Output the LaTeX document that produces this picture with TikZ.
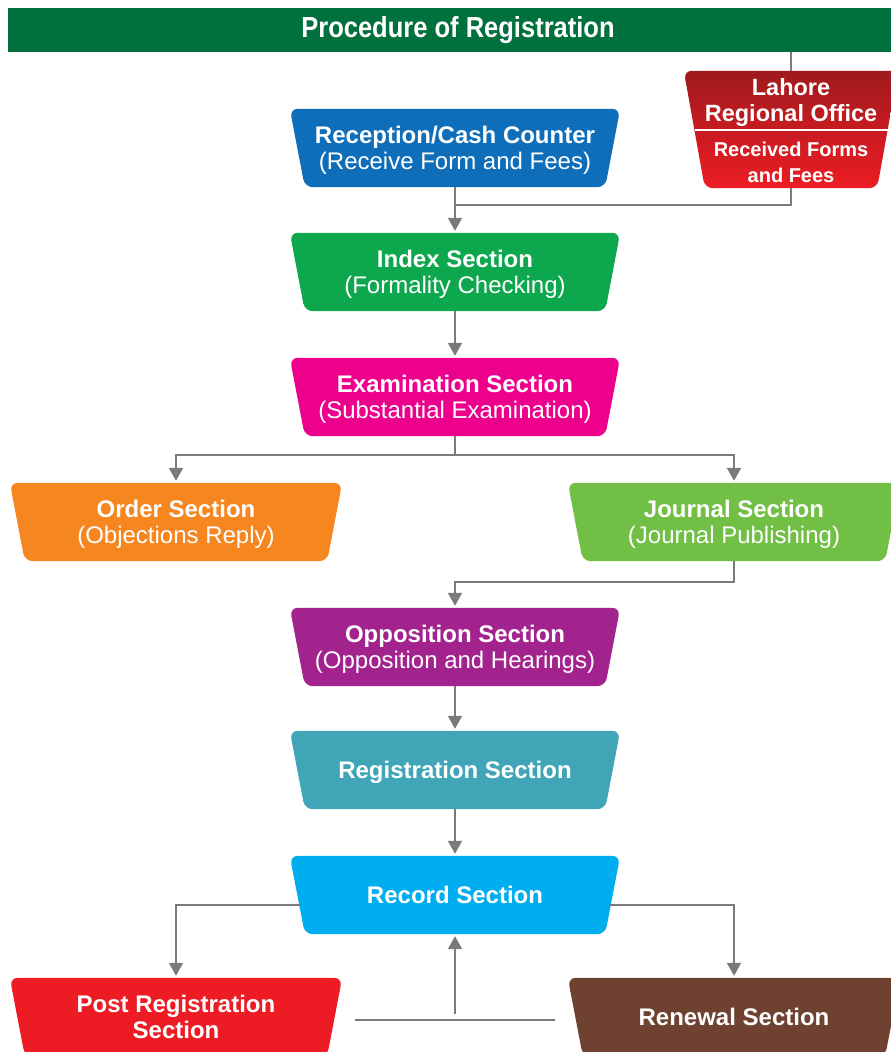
\documentclass[tikz,border=0pt]{standalone}
\usepackage{fontspec}
\setmainfont{Liberation Sans}
\newfontfamily\titlefont[FakeStretch=0.88]{Liberation Sans}
\usetikzlibrary{arrows.meta,backgrounds,calc}
\definecolor{titlegreen}{HTML}{00703C}
\definecolor{cblue}{HTML}{0F6EB9}
\definecolor{cindex}{HTML}{0DA84E}
\definecolor{cmag}{HTML}{EC008C}
\definecolor{corange}{HTML}{F6861F}
\definecolor{clgreen}{HTML}{71BF44}
\definecolor{cpurple}{HTML}{A2238E}
\definecolor{cteal}{HTML}{3FA5B7}
\definecolor{ccyan}{HTML}{00AEEF}
\definecolor{cred}{HTML}{ED1C24}
\definecolor{cbrown}{HTML}{6E4131}
\definecolor{cdred}{HTML}{A01A1D}
\definecolor{cgray}{HTML}{7A7A7A}
\newcommand\mytrap[3]{\path[#2, rounded corners=8pt] (#1.north west) -- (#1.north east) -- ([xshift=-#3]#1.south east) -- ([xshift=#3]#1.south west) -- cycle;}
\tikzset{
  box/.style={inner sep=0pt, minimum height=78pt, align=center, text=white,
    text depth=0pt, font=\fontsize{24}{26}\selectfont},
  wide/.style={minimum width=330pt},
  side/.style={minimum width=332pt},
  conn/.style={draw=cgray, line width=2pt},
  arr/.style={conn, -{Triangle[width=14pt,length=13pt]}, shorten >=2pt}
}
\begin{document}
\begin{tikzpicture}[x=1pt,y=-1pt]
\useasboundingbox (0,0) rectangle (891,1052);
\clip (0,0) rectangle (891,1052);
% title
\node[fill=titlegreen, minimum width=900pt, minimum height=44pt, inner sep=0pt,
  text=white, font=\titlefont\bfseries\fontsize{29}{30}\selectfont] (title) at (458,30) {Procedure of Registration};
% nodes
\node[box, minimum width=214pt, minimum height=117pt] (lahore) at (791,129.5) {};
\node[text=white, align=center, text depth=0pt, font=\bfseries\fontsize{23.5}{26}\selectfont] (lahtop) at (791,100) {Lahore\\Regional Office};
\node[text=white, align=center, text depth=0pt, font=\bfseries\fontsize{20}{26}\selectfont] (lahbot) at (791,162) {Received Forms\\and Fees};
\node[box, wide] (rec) at (455,148) {\textbf{Reception/Cash Counter}\\(Receive Form and Fees)};
\node[box, wide] (index) at (455,272) {\textbf{Index Section}\\(Formality Checking)};
\node[box, wide] (exam) at (455,397) {\textbf{Examination Section}\\(Substantial Examination)};
\node[box, side] (order) at (176,522) {\textbf{Order Section}\\(Objections Reply)};
\node[box, side] (journal) at (734,522) {\textbf{Journal Section}\\(Journal Publishing)};
\node[box, wide] (opp) at (455,647) {\textbf{Opposition Section}\\(Opposition and Hearings)};
\node[box, wide] (reg) at (455,770) {\textbf{Registration Section}};
\node[box, wide] (record) at (455,895) {\textbf{Record Section}};
\node[box, side] (post) at (176,1017) {\textbf{Post Registration}\\\textbf{Section}};
\node[box, side] (renew) at (734,1017) {\textbf{Renewal Section}};
\begin{scope}[on background layer]
\mytrap{lahore}{top color=cdred, bottom color=cred}{21pt}
\mytrap{rec}{fill=cblue}{15pt}
\mytrap{index}{fill=cindex}{15pt}
\mytrap{exam}{fill=cmag}{15pt}
\mytrap{order}{fill=corange}{15pt}
\mytrap{journal}{fill=clgreen}{15pt}
\mytrap{opp}{fill=cpurple}{15pt}
\mytrap{reg}{fill=cteal}{15pt}
\mytrap{record}{fill=ccyan}{15pt}
\mytrap{post}{fill=cred}{15pt}
\mytrap{renew}{fill=cbrown}{15pt}
\end{scope}
\draw[white, line width=1.5pt] (695,130) -- (888,130);
% connectors
\coordinate (j1) at (456,205);
\draw[conn] (title.south -| lahore.north) -- (lahore.north);
\draw[conn] (lahore.south) |- (j1);
\draw[arr] (rec.south) -- (index.north);
\draw[arr] (index.south) -- (exam.north);
\draw[arr] (exam.south) -- ++(0,19) -| (order.north);
\draw[arr] (exam.south) -- ++(0,19) -| (journal.north);
\draw[arr] (journal.south) -- ++(0,21) -| (opp.north);
\draw[arr] (opp.south) -- (reg.north);
\draw[arr] (reg.south) -- (record.north);
\draw[arr] ([shift={(10,10)}]record.west) -| (post.north);
\draw[arr] ([shift={(-10,10)}]record.east) -| (renew.north);
\draw[conn] ([shift={(13,3)}]post.east) -- ([shift={(-13,3)}]renew.west);
\coordinate (j2) at ([yshift=3]post.east -| record.south);
\draw[arr] (j2) -- (record.south);
\end{tikzpicture}
\end{document}
